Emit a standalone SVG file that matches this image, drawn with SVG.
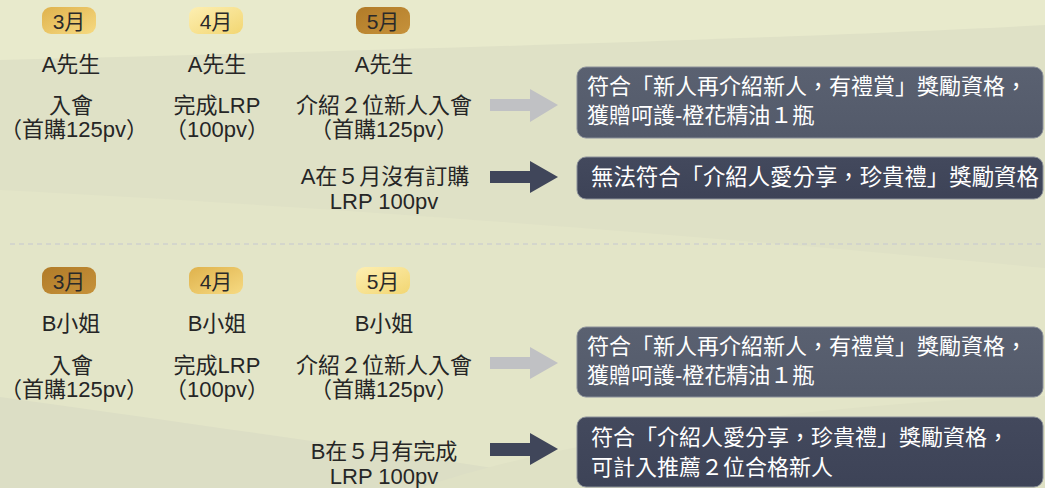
<svg xmlns="http://www.w3.org/2000/svg" width="1045" height="488" viewBox="0 0 1045 488">
  <defs>
    <linearGradient id="gPale" x1="0" y1="0" x2="1" y2="1">
      <stop offset="0" stop-color="#fdefb2"/>
      <stop offset="1" stop-color="#f2d672"/>
    </linearGradient>
    <linearGradient id="gMid" x1="0" y1="0" x2="1" y2="1">
      <stop offset="0" stop-color="#dfb24c"/>
      <stop offset="1" stop-color="#f6da82"/>
    </linearGradient>
    <linearGradient id="gDark" x1="0" y1="0" x2="1" y2="1">
      <stop offset="0" stop-color="#b17b28"/>
      <stop offset="1" stop-color="#c6923b"/>
    </linearGradient>
    <linearGradient id="gBoxL" x1="0" y1="0" x2="0" y2="1">
      <stop offset="0" stop-color="#5a6171"/>
      <stop offset="1" stop-color="#535a6a"/>
    </linearGradient>
    <linearGradient id="gBoxD" x1="0" y1="0" x2="0" y2="1">
      <stop offset="0" stop-color="#43495d"/>
      <stop offset="1" stop-color="#3d4357"/>
    </linearGradient>
  </defs>
  <style>
    .t { font-family: "Liberation Sans", "Noto Sans CJK TC", sans-serif; font-size: 22px; fill: #262626; text-anchor: middle; }
    .s { font-family: "Liberation Sans", "Noto Sans CJK TC", sans-serif; font-size: 22px; fill: #262626; }
    .b { font-family: "Liberation Sans", "Noto Sans CJK TC", sans-serif; font-size: 21px; fill: #2a2a2a; text-anchor: middle; }
    .w { font-family: "Liberation Sans", "Noto Sans CJK TC", sans-serif; font-size: 22px; fill: #ffffff; }
    .box { stroke: #8b909a; stroke-width: 1; }
    .ag { fill: #c0c1c4; }
    .ad { fill: #40465a; }
  </style>

  <!-- background -->
  <rect x="0" y="0" width="1045" height="488" fill="#dfe1c6"/>
  <path d="M0,0 H1045 V25 C800,38 400,50 0,60 Z" fill="#e8eacc"/>
  <path d="M0,190 C300,205 700,235 1045,268 V488 H0 Z" fill="#e3e5c8"/>
  <path d="M0,397 C200,425 450,460 620,488 H0 Z" fill="#dcdec5"/>
  <path d="M420,488 C560,440 800,404 1045,396 V488 Z" fill="#dfe1c5"/>

  <!-- divider -->
  <line x1="10" y1="244" x2="1045" y2="244" stroke="#c6c7cf" stroke-width="1.2" stroke-dasharray="5 4"/>

  <!-- connectors -->
  <g id="connectors">
    <polygon class="ag" points="490,99 530,99 530,89 558,105 530,122 530,111 490,111"/>
    <polygon class="ad" points="490,171 530,171 530,161 558,177 530,193 530,183 490,183"/>
    <polygon class="ag" points="490,357 530,357 530,347 558,363 530,379 530,369 490,369"/>
    <polygon class="ad" points="490,443 530,443 530,433 558,449 530,465 530,456 490,456"/>
  </g>

  <!-- Section A -->
  <g id="a-m3">
    <rect x="42" y="7" width="54" height="27" rx="9" fill="url(#gMid)"/>
    <text class="b" x="69" y="29">3月</text>
  </g>
  <g id="a-m4">
    <rect x="189" y="7" width="54" height="27" rx="9" fill="url(#gPale)"/>
    <text class="b" x="216" y="29">4月</text>
  </g>
  <g id="a-m5">
    <rect x="356" y="7" width="54" height="27" rx="9" fill="url(#gDark)"/>
    <text class="b" x="383" y="29">5月</text>
  </g>
  <g id="a-col1">
    <text class="t" x="71" y="72">A先生</text>
    <text class="t" x="71" y="113">入會</text>
    <text class="s" x="0" y="137">（首購125pv）</text>
  </g>
  <g id="a-col2">
    <text class="t" x="217" y="72">A先生</text>
    <text class="t" x="217" y="113">完成LRP</text>
    <text class="t" x="217" y="137">（100pv）</text>
  </g>
  <g id="a-col3">
    <text class="t" x="384" y="72">A先生</text>
    <text class="t" x="384" y="113">介紹２位新人入會</text>
    <text class="t" x="384" y="137">（首購125pv）</text>
  </g>
  <g id="a-cond">
    <text class="t" x="385" y="184">A在５月沒有訂購</text>
    <text class="t" x="384" y="209">LRP 100pv</text>
  </g>
  <g id="a-res1">
    <rect class="box" x="577" y="67" width="466" height="71" rx="9" fill="url(#gBoxL)"/>
    <text class="w" x="587" y="94">符合「新人再介紹新人，有禮賞」獎勵資格，</text>
    <text class="w" x="587" y="123">獲贈呵護-橙花精油１瓶</text>
  </g>
  <g id="a-res2">
    <rect class="box" x="577" y="157" width="466" height="42" rx="9" fill="url(#gBoxD)"/>
    <text class="w" x="591" y="185" style="font-size:22.4px">無法符合「介紹人愛分享，珍貴禮」獎勵資格</text>
  </g>

  <!-- Section B -->
  <g id="b-m3">
    <rect x="42" y="267" width="54" height="27" rx="9" fill="url(#gDark)"/>
    <text class="b" x="69" y="289">3月</text>
  </g>
  <g id="b-m4">
    <rect x="189" y="267" width="54" height="27" rx="9" fill="url(#gMid)"/>
    <text class="b" x="216" y="289">4月</text>
  </g>
  <g id="b-m5">
    <rect x="356" y="267" width="54" height="27" rx="9" fill="url(#gPale)"/>
    <text class="b" x="383" y="289">5月</text>
  </g>
  <g id="b-col1">
    <text class="t" x="71" y="331">B小姐</text>
    <text class="t" x="71" y="373">入會</text>
    <text class="s" x="0" y="397">（首購125pv）</text>
  </g>
  <g id="b-col2">
    <text class="t" x="217" y="331">B小姐</text>
    <text class="t" x="217" y="373">完成LRP</text>
    <text class="t" x="217" y="397">（100pv）</text>
  </g>
  <g id="b-col3">
    <text class="t" x="384" y="331">B小姐</text>
    <text class="t" x="384" y="373">介紹２位新人入會</text>
    <text class="t" x="384" y="397">（首購125pv）</text>
  </g>
  <g id="b-cond">
    <text class="t" x="384" y="459">B在５月有完成</text>
    <text class="t" x="384" y="484">LRP 100pv</text>
  </g>
  <g id="b-res1">
    <rect class="box" x="577" y="327" width="466" height="70" rx="9" fill="url(#gBoxL)"/>
    <text class="w" x="587" y="354">符合「新人再介紹新人，有禮賞」獎勵資格，</text>
    <text class="w" x="587" y="383">獲贈呵護-橙花精油１瓶</text>
  </g>
  <g id="b-res2">
    <rect class="box" x="577" y="417" width="466" height="70" rx="9" fill="url(#gBoxD)"/>
    <text class="w" x="591" y="445">符合「介紹人愛分享，珍貴禮」獎勵資格，</text>
    <text class="w" x="591" y="475">可計入推薦２位合格新人</text>
  </g>
</svg>
